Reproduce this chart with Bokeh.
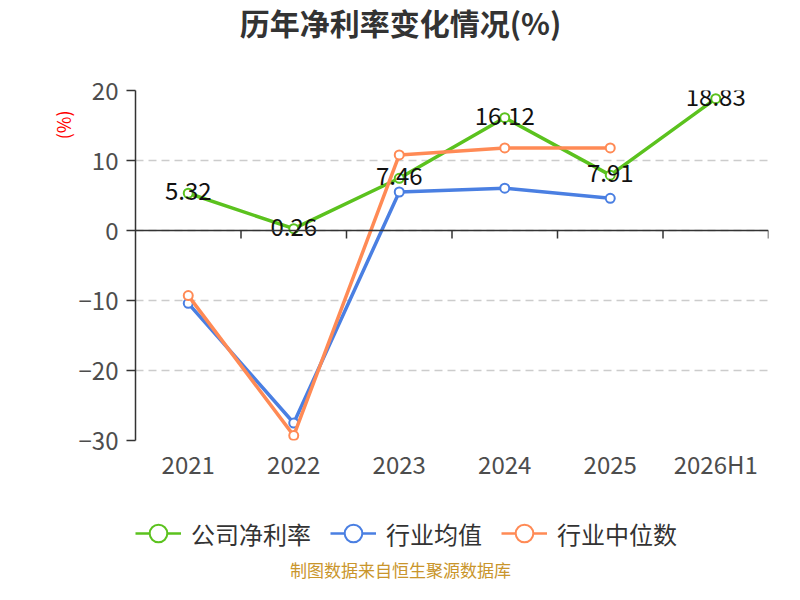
from bokeh.plotting import figure
from bokeh.layouts import column
from bokeh.models import (FactorRange, Range1d, ColumnDataSource, Legend, LegendItem,
                          Span, FixedTicker, Title, Label)
from bokeh.core.properties import value
from bokeh.embed import file_html
from bokeh.resources import INLINE

# ---------------- data ----------------
categories = ["2021", "2022", "2023", "2024", "2025", "2026H1"]
company = [5.32, 0.26, 7.46, 16.12, 7.91, 18.83]
industry_mean = [-10.4, -27.5, 5.5, 6.05, 4.6]
industry_median = [-9.3, -29.3, 10.8, 11.8, 11.8]
y_ticks = [-30, -20, -10, 0, 10, 20]
series_names = ["公司净利率", "行业均值", "行业中位数"]
title_text = "历年净利率变化情况(%)"
unit_text = "(%)"
footer_text = "制图数据来自恒生聚源数据库"

FONT = "Noto Sans CJK SC"
GREEN = "#5BC21E"
BLUE = "#4A7FE2"
ORANGE = "#FF8A55"
DARK = "#333333"
colors = [GREEN, BLUE, ORANGE]
W = 784
LEFT, RIGHT = 135, 16


def bare(h):
    # strip whose frame is aligned with the main chart's frame; data x == page x
    f = figure(width=W, height=h, x_range=Range1d(LEFT, W - RIGHT), y_range=Range1d(0, h),
               x_axis_type=None, y_axis_type=None, output_backend="svg",
               toolbar_location=None, min_border_left=LEFT, min_border_right=RIGHT,
               min_border_top=0, min_border_bottom=0)
    f.outline_line_color = None
    f.xgrid.visible = False
    f.ygrid.visible = False
    return f


# ---------------- title strip ----------------
top = bare(45)
top.add_layout(Label(x=400, y=24, text=title_text, text_align="center",
                     text_baseline="middle", text_font=FONT, text_font_size="30px",
                     text_font_style="bold", text_color=DARK))

# ---------------- main chart ----------------
p = figure(width=W, height=445,
           x_range=FactorRange(factors=categories, range_padding=0),
           y_range=Range1d(y_ticks[0], y_ticks[-1]),
           output_backend="svg", toolbar_location=None,
           min_border_left=LEFT, min_border_right=RIGHT,
           min_border_top=45, min_border_bottom=50)
p.outline_line_color = None

p.yaxis.ticker = FixedTicker(ticks=y_ticks)
p.yaxis.axis_line_color = DARK
p.yaxis.axis_line_width = 1.5
p.yaxis.major_tick_line_color = DARK
p.yaxis.major_tick_line_width = 1.5
p.yaxis.major_tick_out = 9
p.yaxis.major_tick_in = 0
p.yaxis.minor_tick_out = 0
p.yaxis.minor_tick_in = 0
p.yaxis.major_label_text_font = FONT
p.yaxis.major_label_text_font_size = "24px"
p.yaxis.major_label_text_color = "#4d4d4d"
p.yaxis.major_label_standoff = 8

p.xaxis.axis_line_color = None
p.xaxis.major_tick_line_color = None
p.xaxis.major_tick_out = 0
p.xaxis.major_tick_in = 0
p.xaxis.major_label_text_font = FONT
p.xaxis.major_label_text_font_size = "24px"
p.xaxis.major_label_text_color = "#4d4d4d"
p.xaxis.major_label_standoff = 5

p.xgrid.grid_line_color = None
p.ygrid.ticker = FixedTicker(ticks=y_ticks)
p.ygrid.grid_line_color = "#cccccc"
p.ygrid.grid_line_dash = "8 5"
p.ygrid.grid_line_width = 1.5

# zero axis line with category-boundary ticks
p.add_layout(Span(location=0, dimension="width", line_color=DARK, line_width=1.5))
boundaries = list(range(1, len(categories) + 1))
tick_len = 8 / 7.0
p.segment(x0=boundaries, y0=[0] * len(boundaries), x1=boundaries,
          y1=[-tick_len] * len(boundaries), line_color=DARK, line_width=1.5)

for vals, color in zip([company, industry_mean, industry_median], colors):
    src = ColumnDataSource(dict(x=categories[:len(vals)], y=vals))
    p.line("x", "y", source=src, line_color=color, line_width=3.5)
    p.scatter("x", "y", source=src, size=9, fill_color="white",
              line_color=color, line_width=2)

lab_src = ColumnDataSource(dict(x=categories, y=company,
                                t=[f"{v:.2f}" for v in company]))
p.text("x", "y", text="t", source=lab_src, text_align="center",
       text_baseline="middle", y_offset=-2, text_font=value(FONT),
       text_font_size="24px", text_color="#111111")

p.add_layout(Title(text=unit_text, align="right", offset=20, standoff=0,
                   text_font=FONT, text_font_size="18px", text_font_style="normal",
                   text_color="#ff0000"), "left")

# ---------------- legend + source strip ----------------
bot = bare(94)
items = []
for name, color in zip(series_names, colors):
    # legend-only proxies: one point placed below the strip's visible range
    lr = bot.line(x=[LEFT, LEFT], y=[-1000, -1000], line_color=color, line_width=2.5)
    sr = bot.scatter(x=[LEFT], y=[-1000], size=9, fill_color="white",
                     line_color=color, line_width=2)
    items.append(LegendItem(label=name, renderers=[lr, sr]))
legend = Legend(items=items, orientation="horizontal", location=(0, 29),
                padding=0, margin=0, spacing=19, glyph_width=46, glyph_height=44,
                label_standoff=10, label_text_font=FONT, label_text_font_size="24px",
                label_text_color=DARK, border_line_color=None,
                background_fill_alpha=0)
bot.add_layout(legend, "center")
bot.add_layout(Label(x=400, y=15, text=footer_text, text_align="center",
                     text_baseline="middle", text_font=FONT, text_font_size="17px",
                     text_color="#C9952B"))

layout = column(top, p, bot, spacing=0)
open("out.html", "w").write(file_html(layout, INLINE))
